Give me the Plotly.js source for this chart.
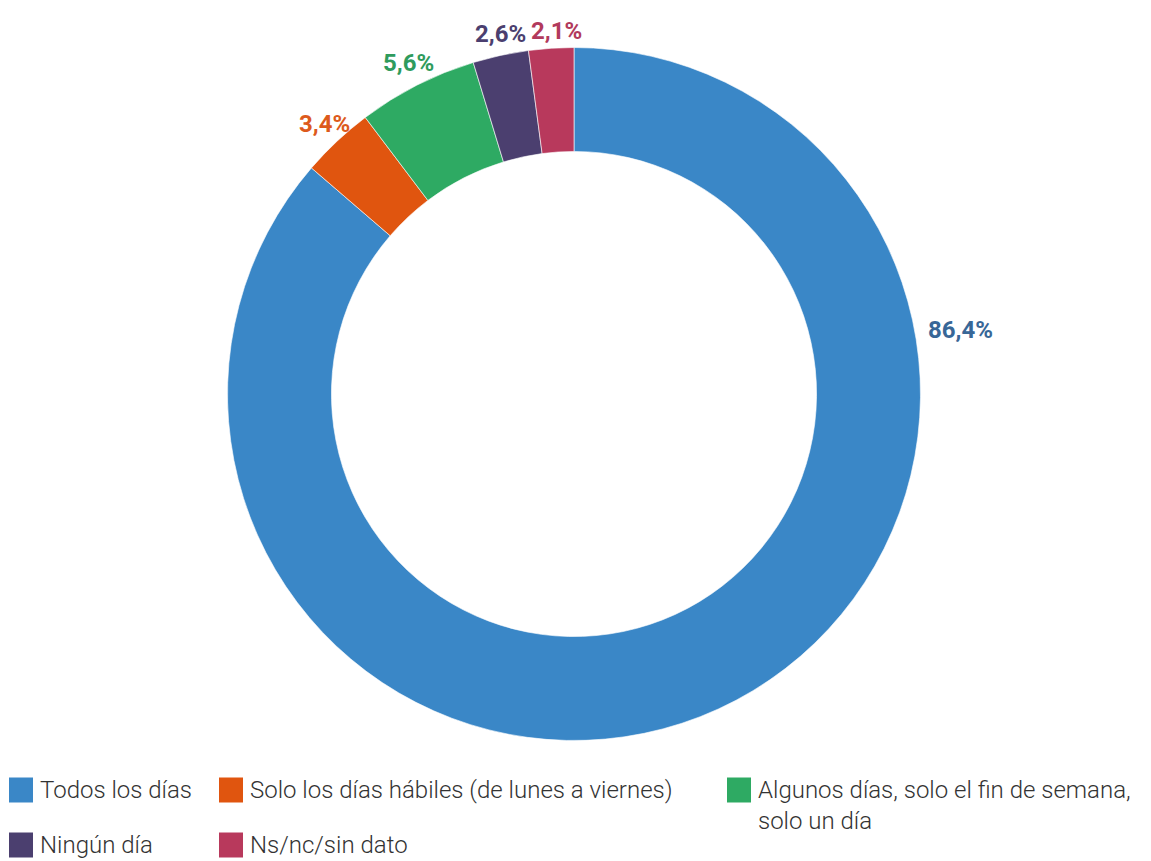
<!DOCTYPE html>
<html>
<head>
<meta charset="utf-8">
<script src="https://cdn.plot.ly/plotly-3.0.1.min.js"></script>
<style>
  html, body { margin: 0; padding: 0; background: #fff; }
  #chart { width: 1151px; height: 861px; }
</style>
</head>
<body>
<div id="chart"></div>
<script>
// answers, in drawing order (clockwise from 12 o'clock)
const labels = [
    'Todos los días',
    'Solo los días hábiles (de lunes a viernes)',
    'Algunos días, solo el fin de semana,<br>solo un día',
    'Ningún día',
    'Ns/nc/sin dato'
];
const shares = [86.4, 3.4, 5.6, 2.6, 2.1];
const sliceColors = ['#3a87c7', '#e0550f', '#2eaa63', '#4b3f6f', '#b8395c'];
const labelColors = ['#386797', '#dd5a1c', '#2f9b5d', '#4b3f6f', '#b23a5c'];

// where the percentage labels sit in the original: [x px, y px, anchor]
const labelSpots = [[926, 330, 'left'], [324, 124, 'center'], [408, 63, 'center'], [500, 34, 'center'], [556, 31, 'center']];
// legend layout: [swatch left px, row centre px]
const legendSpots = [[9, 790], [219, 790], [727, 790], [9, 845], [219, 845]];

const W = 1151, H = 861;
const px = x => x / W;
const py = y => (H - y) / H;

const fmt = v => v.toFixed(1).replace('.', ',') + '%';
const pctFont = { family: 'Roboto, "Liberation Sans", sans-serif', size: 24, weight: 'bold' };
const legendFont = { family: 'Roboto, "Liberation Sans", sans-serif', size: 24, weight: 300, color: '#333333' };

const trace = {
    type: 'pie',
    values: shares,
    labels: labels,
    sort: false,
    direction: 'clockwise',
    rotation: 0,
    hole: 0.70,
    domain: { x: [px(227.5), px(920.5)], y: [py(740.5), py(47.5)] },
    marker: { colors: sliceColors, line: { color: 'rgba(255,255,255,0.6)', width: 1 } },
    textinfo: 'none',
    showlegend: false,
    hoverinfo: 'label+percent'
};

const annotations = [];
const shapes = [];

shares.forEach((v, i) => {
    const [x, y, anchor] = labelSpots[i];
    annotations.push({
        xref: 'paper', yref: 'paper',
        x: px(x), y: py(y),
        xanchor: anchor, yanchor: 'middle',
        text: fmt(v),
        showarrow: false,
        font: Object.assign({ color: labelColors[i] }, pctFont)
    });
});

labels.forEach((lab, i) => {
    const [left, cy] = legendSpots[i];
    shapes.push({
        type: 'rect', xref: 'paper', yref: 'paper',
        x0: px(left), x1: px(left + 24),
        y0: py(cy + 12.5), y1: py(cy - 12.5),
        fillcolor: sliceColors[i], line: { width: 0 }
    });
    annotations.push({
        xref: 'paper', yref: 'paper',
        x: px(left + 30), y: py(cy - 15),
        xanchor: 'left', yanchor: 'top',
        align: 'left',
        text: lab,
        showarrow: false,
        borderpad: 0,
        font: legendFont
    });
});

const layout = {
    width: W,
    height: H,
    margin: { l: 0, r: 0, t: 0, b: 0 },
    paper_bgcolor: '#ffffff',
    plot_bgcolor: '#ffffff',
    separators: ',.',
    showlegend: false,
    annotations: annotations,
    shapes: shapes
};

Plotly.newPlot('chart', [trace], layout, { displayModeBar: false, staticPlot: true });
</script>
</body>
</html>
